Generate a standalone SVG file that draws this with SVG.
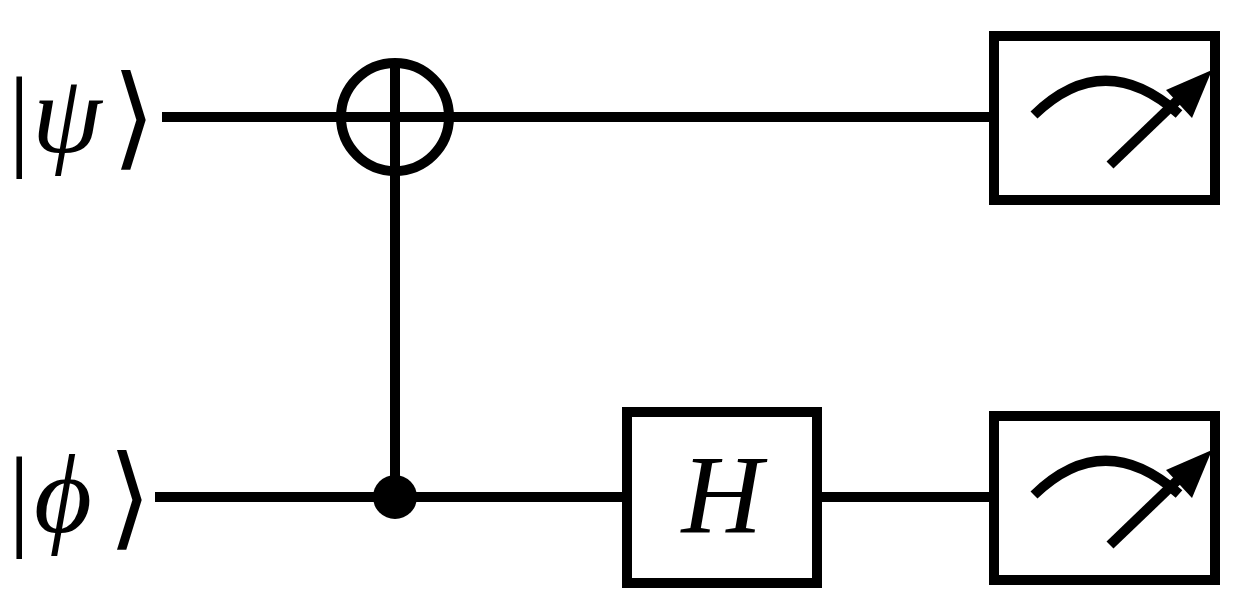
<svg xmlns="http://www.w3.org/2000/svg" width="1245" height="610" viewBox="0 0 1245 610">
<style>
.w{stroke:#000;stroke-width:10;fill:none}
.t{font-family:"Liberation Serif","DejaVu Serif",serif;font-size:112px;fill:#000}
.i{font-style:italic}
</style>
<defs>
<g id="meter">
<path class="w" d="M40,83 Q110,15 185,82"/>
<line class="w" x1="116" y1="133" x2="190" y2="62"/>
<polygon points="218,38 172,58 198,86"/>
</g>
</defs>
<rect width="1245" height="610" fill="#fff"/>
<g id="connectors">
<line class="w" x1="162" y1="117" x2="994" y2="117"/>
<line class="w" x1="155" y1="497" x2="625" y2="497"/>
<line class="w" x1="818" y1="497" x2="994" y2="497"/>
<line class="w" x1="395" y1="62" x2="395" y2="497"/>
</g>
<g id="psi"><text class="t" x="8" y="155">|</text><text class="t i" x="32" y="152">ψ</text><text class="t" x="112" y="155">⟩</text></g>
<g id="phi"><text class="t" x="8" y="535">|</text><text class="t i" x="34" y="532">ϕ</text><text class="t" x="108" y="535">⟩</text></g>
<g id="cnot-target"><circle class="w" cx="395" cy="117" r="54"/></g>
<g id="cnot-control"><circle cx="395" cy="497" r="22"/></g>
<g id="H"><rect class="w" x="627" y="412" width="190" height="171" fill="#fff"/><text class="t i" x="722" y="532" text-anchor="middle" font-size="92">H</text></g>
<g id="meter1"><rect class="w" x="994" y="36" width="221" height="164" fill="#fff"/><use href="#meter" x="994" y="32"/></g>
<g id="meter2"><rect class="w" x="994" y="416" width="221" height="164" fill="#fff"/><use href="#meter" x="994" y="412"/></g>
</svg>
